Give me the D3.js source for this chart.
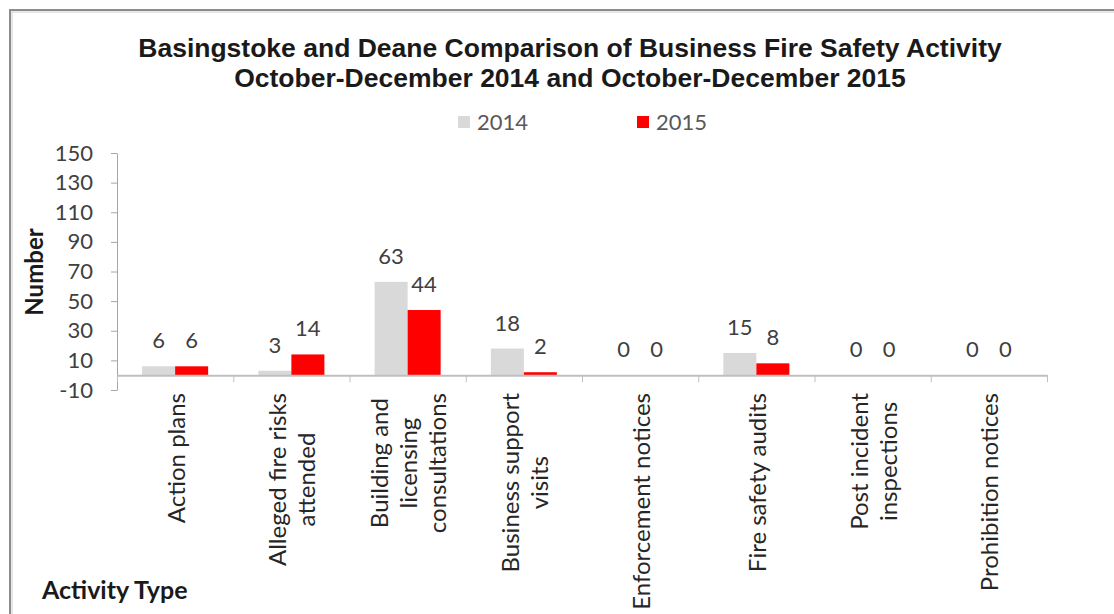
<!DOCTYPE html>
<html>
<head>
<meta charset="utf-8">
<script src="https://cdn.jsdelivr.net/npm/d3@7"></script>
<style>
  html, body { margin: 0; padding: 0; background: #fff; }
  svg { display: block; }
</style>
</head>
<body>
<svg width="1114" height="614"></svg>
<script>
// chart values
const categories = ['Action plans', 'Alleged fire risks attended', 'Building and licensing consultations',
  'Business support visits', 'Enforcement notices', 'Fire safety audits', 'Post incident inspections',
  'Prohibition notices'];
const labelLines = [['Action plans'], ['Alleged fire risks', 'attended'], ['Building and', 'licensing', 'consultations'],
  ['Business support', 'visits'], ['Enforcement notices'], ['Fire safety audits'], ['Post incident', 'inspections'],
  ['Prohibition notices']];
const seriesNames = ['2014', '2015'];
const values2014 = [6, 3, 63, 18, 0, 15, 0, 0];
const values2015 = [6, 14, 44, 2, 0, 8, 0, 0];
const yTicks = [-10, 10, 30, 50, 70, 90, 110, 130, 150];
const titleLines = ['Basingstoke and Deane Comparison of Business Fire Safety Activity',
  'October-December 2014 and October-December 2015'];

const colors = { '2014': '#d9d9d9', '2015': '#ff0000' };
const font = 'Lato, Carlito, Calibri, sans-serif';

const svg = d3.select('svg');

// outer frame (only top and left edges fall inside the picture)
svg.append('path')
  .attr('d', 'M10,614 L10,10 L1114,10')
  .attr('fill', 'none')
  .attr('stroke', '#8c8c8c')
  .attr('stroke-width', 2);
svg.append('path')
  .attr('d', 'M12,614 L12,12 L1114,12')
  .attr('fill', 'none')
  .attr('stroke', '#e6e6e6')
  .attr('stroke-width', 2);

// title
svg.append('text')
  .attr('x', 570)
  .attr('y', 57)
  .attr('text-anchor', 'middle')
  .attr('font-family', 'Liberation Sans, Arial, sans-serif')
  .attr('font-weight', 'bold')
  .attr('font-size', 26.5)
  .attr('fill', '#1a1a1a')
  .selectAll('tspan')
  .data(titleLines)
  .join('tspan')
  .attr('x', 570)
  .attr('dy', (d, i) => i === 0 ? 0 : 30)
  .text(d => d);

// legend
const legendX = d3.scaleOrdinal().domain(seriesNames).range([458, 637]);
const legend = svg.append('g');
seriesNames.forEach(name => {
  legend.append('rect')
    .attr('x', legendX(name))
    .attr('y', 116)
    .attr('width', 12)
    .attr('height', 12)
    .attr('fill', colors[name]);
  legend.append('text')
    .attr('x', legendX(name) + 19)
    .attr('y', 130)
    .attr('font-family', font)
    .attr('font-size', 22)
    .attr('fill', '#595959')
    .text(name);
});

// scales
const x0 = d3.scaleBand().domain(categories).range([117, 1047]).padding(0);
const bw = x0.bandwidth();
const x1 = d3.scaleBand().domain(seriesNames).range([bw * 0.216, bw * 0.784]).padding(0);
const y = d3.scaleLinear().domain([-10, 150]).range([390, 153]);
const xb = d3.scaleLinear().domain([0, categories.length]).range([117, 1047]);

// y axis
const yAxis = svg.append('g')
  .attr('transform', 'translate(117,0)')
  .call(d3.axisLeft(y).tickValues(yTicks).tickSize(6).tickSizeOuter(0).tickPadding(18)
    .tickFormat(d => String(d)));
yAxis.select('.domain').attr('stroke', '#a6a6a6');
yAxis.selectAll('.tick line').attr('stroke', '#a6a6a6');
yAxis.selectAll('.tick text')
  .attr('font-family', font)
  .attr('font-size', 22)
  .attr('fill', '#404040');

// bars
const data = categories.map((c, i) => ({ cat: c, values: [values2014[i], values2015[i]] }));
const groups = svg.append('g')
  .selectAll('g')
  .data(data)
  .join('g')
  .attr('transform', d => `translate(${x0(d.cat)},0)`);

groups.selectAll('rect')
  .data(d => d.values.map((v, j) => ({ name: seriesNames[j], value: v })))
  .join('rect')
  .attr('x', d => x1(d.name))
  .attr('width', x1.bandwidth())
  .attr('y', d => y(Math.max(0, d.value)))
  .attr('height', d => Math.abs(y(d.value) - y(0)))
  .attr('fill', d => colors[d.name]);

// value labels
groups.selectAll('text.val')
  .data(d => d.values.map((v, j) => ({ name: seriesNames[j], value: v })))
  .join('text')
  .attr('class', 'val')
  .attr('x', d => x1(d.name) + x1.bandwidth() / 2)
  .attr('y', d => y(d.value) - 18)
  .attr('text-anchor', 'middle')
  .attr('font-family', font)
  .attr('font-size', 22)
  .attr('fill', '#404040')
  .text(d => d.value);

// category axis on the zero line, ticks between categories
const xAxis = svg.append('g')
  .attr('transform', `translate(0,${y(0)})`)
  .call(d3.axisBottom(xb).tickValues(d3.range(categories.length + 1)).tickSize(7).tickSizeOuter(0).tickFormat(''));
xAxis.select('.domain').attr('stroke', '#bfbfbf').attr('stroke-width', 2);
xAxis.selectAll('.tick line').attr('stroke', '#bfbfbf');

// category labels, rotated, lines centred on each other
const labelTop = 393;
const lineGap = 29;
categories.forEach((c, i) => {
  const lines = labelLines[i];
  const cx = x0(c) + bw / 2;
  const g = svg.append('g');
  const texts = lines.map((line, k) => g.append('text')
    .attr('font-family', font)
    .attr('font-size', 24)
    .attr('fill', '#262626')
    .attr('text-anchor', 'middle')
    .attr('dominant-baseline', 'central')
    .text(line));
  const maxLen = d3.max(texts, t => t.node().getComputedTextLength());
  texts.forEach((t, k) => {
    const lx = cx + (k - (lines.length - 1) / 2) * lineGap;
    t.attr('transform', `translate(${lx},${labelTop + maxLen / 2}) rotate(-90)`);
  });
});

// axis titles
svg.append('text')
  .attr('transform', 'translate(33,272) rotate(-90)')
  .attr('text-anchor', 'middle')
  .attr('dominant-baseline', 'central')
  .attr('font-family', font)
  .attr('font-weight', 'bold')
  .attr('font-size', 24)
  .attr('fill', '#1a1a1a')
  .text('Number');

svg.append('text')
  .attr('x', 42)
  .attr('y', 599)
  .attr('font-family', font)
  .attr('font-weight', 'bold')
  .attr('font-size', 25)
  .attr('fill', '#1a1a1a')
  .text('Activity Type');
</script>
</body>
</html>
